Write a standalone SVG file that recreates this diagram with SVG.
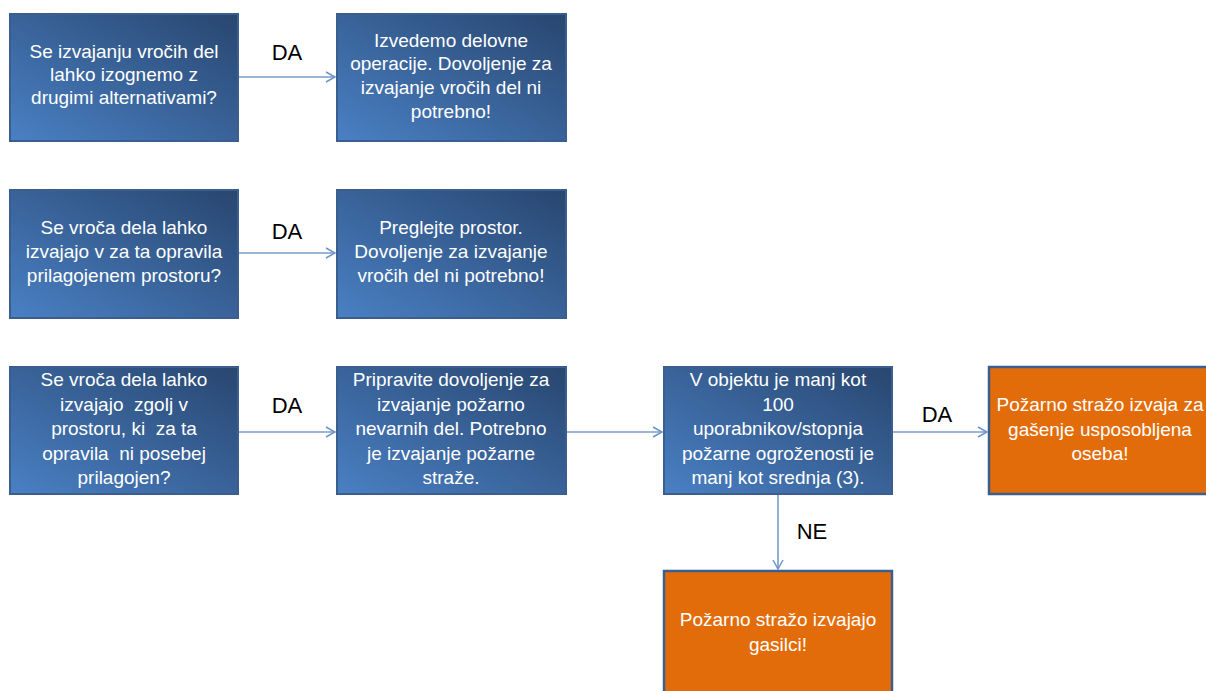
<svg xmlns="http://www.w3.org/2000/svg" width="1206" height="691" viewBox="0 0 1206 691">
<defs>
<linearGradient id="blue" x1="1" y1="0" x2="0" y2="1">
<stop offset="0" stop-color="#28466f"/>
<stop offset="1" stop-color="#4a80c4"/>
</linearGradient>
<marker id="arr" markerWidth="12" markerHeight="12" refX="10" refY="6" orient="auto" markerUnits="userSpaceOnUse">
<path d="M1,1 L10,6 L1,11" fill="none" stroke="#6f95c6" stroke-width="1.5"/>
</marker>
<style>
.b{fill:url(#blue);stroke:#3a5f8f;stroke-width:2}
.o{fill:#e36c0a;stroke:#3a5f8f;stroke-width:2.5}
.t{font-family:"Liberation Sans",Arial,sans-serif;font-size:19px;fill:#ffffff;text-anchor:middle}
.l{font-family:"Liberation Sans",Arial,sans-serif;font-size:22px;fill:#000000;text-anchor:middle}
.c{fill:none;stroke:#7a9cc9;stroke-width:1.6}
</style>
</defs>
<rect width="1206" height="691" fill="#ffffff"/>
<g id="connectors">
<line class="c" x1="239" y1="77" x2="335" y2="77" marker-end="url(#arr)"/>
<line class="c" x1="239" y1="253" x2="335" y2="253" marker-end="url(#arr)"/>
<line class="c" x1="239" y1="432" x2="335" y2="432" marker-end="url(#arr)"/>
<line class="c" x1="567" y1="432" x2="662" y2="432" marker-end="url(#arr)"/>
<line class="c" x1="893" y1="432" x2="987" y2="432" marker-end="url(#arr)"/>
<line class="c" x1="778" y1="495" x2="778" y2="569" marker-end="url(#arr)"/>
<text class="l" x="287" y="60">DA</text>
<text class="l" x="287" y="239">DA</text>
<text class="l" x="287" y="413">DA</text>
<text class="l" x="937" y="422">DA</text>
<text class="l" x="812" y="539">NE</text>
</g>
<g id="n1">
<rect class="b" x="10" y="14" width="228" height="127"/>
<text class="t" x="124" y="58">Se izvajanju vročih del</text>
<text class="t" x="124" y="81">lahko izognemo z</text>
<text class="t" x="124" y="104">drugimi alternativami?</text>
</g>
<g id="n2">
<rect class="b" x="337" y="14" width="229" height="127"/>
<text class="t" x="451" y="47">Izvedemo delovne</text>
<text class="t" x="451" y="70">operacije. Dovoljenje za</text>
<text class="t" x="451" y="94">izvajanje vročih del ni</text>
<text class="t" x="451" y="118">potrebno!</text>
</g>
<g id="n3">
<rect class="b" x="10" y="190" width="228" height="128"/>
<text class="t" x="124" y="234">Se vroča dela lahko</text>
<text class="t" x="124" y="258">izvajajo v za ta opravila</text>
<text class="t" x="124" y="282">prilagojenem prostoru?</text>
</g>
<g id="n4">
<rect class="b" x="337" y="190" width="229" height="128"/>
<text class="t" x="451" y="234">Preglejte prostor.</text>
<text class="t" x="451" y="258">Dovoljenje za izvajanje</text>
<text class="t" x="451" y="282">vročih del ni potrebno!</text>
</g>
<g id="n5">
<rect class="b" x="10" y="367" width="228" height="127"/>
<text class="t" x="124" y="386">Se vroča dela lahko</text>
<text class="t" x="124" y="411" xml:space="preserve">izvajajo  zgolj v</text>
<text class="t" x="124" y="435" xml:space="preserve">prostoru, ki  za ta</text>
<text class="t" x="124" y="460" xml:space="preserve">opravila  ni posebej</text>
<text class="t" x="124" y="484">prilagojen?</text>
</g>
<g id="n6">
<rect class="b" x="337" y="367" width="229" height="127"/>
<text class="t" x="451" y="386">Pripravite dovoljenje za</text>
<text class="t" x="451" y="411">izvajanje požarno</text>
<text class="t" x="451" y="435">nevarnih del. Potrebno</text>
<text class="t" x="451" y="460">je izvajanje požarne</text>
<text class="t" x="451" y="484">straže.</text>
</g>
<g id="n7">
<rect class="b" x="664" y="367" width="228" height="127"/>
<text class="t" x="778" y="386">V objektu je manj kot</text>
<text class="t" x="778" y="411">100</text>
<text class="t" x="778" y="435">uporabnikov/stopnja</text>
<text class="t" x="778" y="460">požarne ogroženosti je</text>
<text class="t" x="778" y="484">manj kot srednja (3).</text>
</g>
<g id="n8">
<rect class="o" x="989" y="367" width="230" height="127"/>
<text class="t" x="1100" y="411">Požarno stražo izvaja za</text>
<text class="t" x="1100" y="436">gašenje usposobljena</text>
<text class="t" x="1100" y="460">oseba!</text>
</g>
<g id="n9">
<rect class="o" x="664" y="571" width="228" height="130"/>
<text class="t" x="778" y="626">Požarno stražo izvajajo</text>
<text class="t" x="778" y="651">gasilci!</text>
</g>
</svg>
